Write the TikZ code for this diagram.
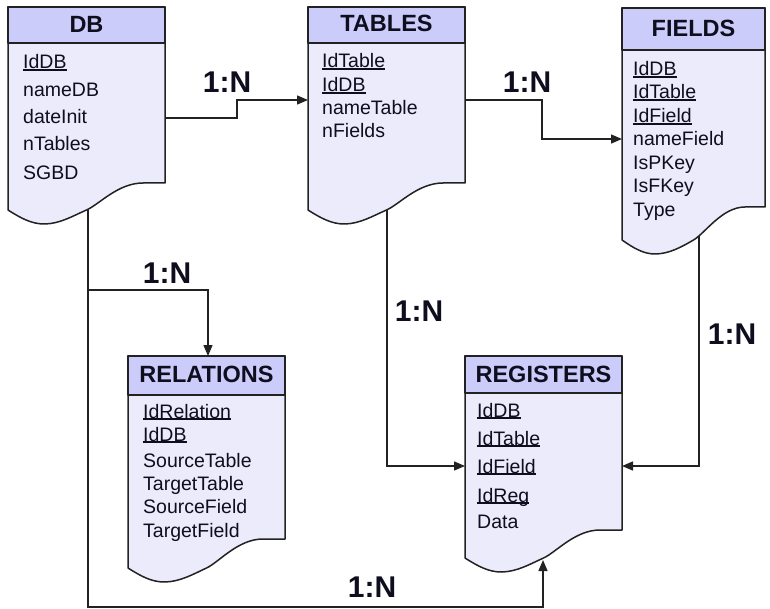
\documentclass[tikz,border=0pt]{standalone}
\usepackage{fontspec}
\setmainfont{Liberation Sans}
\usetikzlibrary{arrows.meta}
\definecolor{hdrfill}{HTML}{CCCCFA}
\definecolor{bodyfill}{HTML}{EBEBFC}
\definecolor{edgecol}{HTML}{222222}
\definecolor{txt}{HTML}{0E0E1E}
\newcommand\keyfield[1]{\setbox0\hbox{#1}\rlap{\rule[-1.8pt]{\wd0}{1.8pt}}\box0}
\newcommand\docbox[6]{% L,R,T,H,yR,yL
 \pgfmathsetmacro\dbw{#2-#1}%
 \pgfmathsetmacro\dbd{#6-#5}%
 \filldraw[boxline, fill=bodyfill] (#1,#3) -- (#2,#3) -- (#2,#5) -- ({#2-0.14*\dbw},#5)
   .. controls ({#2-0.3*\dbw},#5) and ({#1+0.58*\dbw},{#6-0.2*\dbd}) .. ({#1+0.5*\dbw},#6)
   .. controls ({#1+0.42*\dbw},{#6+0.2*\dbd}) and ({#1+0.33*\dbw},{#6+14}) .. ({#1+0.23*\dbw},{#6+14})
   .. controls ({#1+0.15*\dbw},{#6+14}) and ({#1+0.08*\dbw},{#6+8}) .. (#1,#6) -- cycle;
 \filldraw[boxline, fill=hdrfill] (#1,#3) rectangle (#2,#4);
}
\tikzset{
  boxline/.style={draw=edgecol, line width=1.5pt, line join=round},
  conn/.style={draw=edgecol, line width=1.4pt, -{Triangle[length=11pt,width=9pt]}},
  hdrtext/.style={anchor=base, inner sep=0pt, text=txt, font=\fontsize{23.5}{26}\selectfont\bfseries},
  row/.style={anchor=base west, inner sep=0pt, text=txt, font=\fontsize{19.5}{22}\selectfont},
  card/.style={anchor=center, inner sep=0pt, text=txt, font=\fontsize{30}{32}\selectfont\bfseries}
}
\begin{document}
\begin{tikzpicture}[x=1pt,y=-1pt]
\useasboundingbox (0,0) rectangle (770,609);
% connection points
\coordinate (dbE) at (165,118);
\coordinate (k1) at (237,118);
\coordinate (tabW) at (308,100);
\coordinate (tabE) at (465,100);
\coordinate (k2) at (542,100);
\coordinate (fldW) at (622,139);
\coordinate (tabS) at (387,150);
\coordinate (regW) at (465,466);
\coordinate (fldS) at (699,200);
\coordinate (regE) at (622,466);
\coordinate (dbS) at (88,150);
\coordinate (kb) at (543,607);
\coordinate (regS) at (543,560);
\coordinate (br) at (88,290);
\coordinate (relN) at (208,356);
% connectors
\draw[conn] (dbE) -- (k1) |- (tabW);
\draw[conn] (tabE) -- (k2) |- (fldW);
\draw[conn] (tabS) |- (regW);
\draw[conn] (fldS) |- (regE);
\draw[conn] (dbS) |- (kb) -- (regS);
\draw[conn] (br) -| (relN);
% boxes
\docbox{8}{165}{7}{43}{183}{210}
\docbox{308}{465}{7}{43}{183}{210}
\docbox{622}{765}{8}{50}{207}{240}
\docbox{128}{285}{356}{395}{539}{568}
\docbox{465}{622}{356}{393}{530}{558}
% headers
\node[hdrtext] (dbT) at (86.5,33) {DB};
\node[hdrtext] (tabT) at (386.5,32) {TABLES};
\node[hdrtext] (fldT) at (693.5,37) {FIELDS};
\node[hdrtext] (relT) at (206.5,382) {RELATIONS};
\node[hdrtext] (regT) at (543.5,382) {REGISTERS};
% DB rows
\node[row] (db1) at (23,69) {\keyfield{IdDB}};
\node[row] (db2) at (23,97) {nameDB};
\node[row] (db3) at (23,124) {dateInit};
\node[row] (db4) at (23,151) {nTables};
\node[row] (db5) at (23,180) {SGBD};
% TABLES rows
\node[row] (tb1) at (322,68) {\keyfield{IdTable}};
\node[row] (tb2) at (322,92) {\keyfield{IdDB}};
\node[row] (tb3) at (322,115) {nameTable};
\node[row] (tb4) at (322,138) {nFields};
% FIELDS rows
\node[row] (fd1) at (633,76) {\keyfield{IdDB}};
\node[row] (fd2) at (633,99) {\keyfield{IdTable}};
\node[row] (fd3) at (633,123) {\keyfield{IdField}};
\node[row] (fd4) at (633,146) {nameField};
\node[row] (fd5) at (633,170) {IsPKey};
\node[row] (fd6) at (633,193) {IsFKey};
\node[row] (fd7) at (633,217) {Type};
% RELATIONS rows
\node[row] (rl1) at (143,418) {\keyfield{IdRelation}};
\node[row] (rl2) at (143,441) {\keyfield{IdDB}};
\node[row] (rl3) at (143,467) {SourceTable};
\node[row] (rl4) at (143,490) {TargetTable};
\node[row] (rl5) at (143,513) {SourceField};
\node[row] (rl6) at (143,537) {TargetField};
% REGISTERS rows
\node[row] (rg1) at (477,417) {\keyfield{IdDB}};
\node[row] (rg2) at (477,445) {\keyfield{IdTable}};
\node[row] (rg3) at (477,473) {\keyfield{IdField}};
\node[row] (rg4) at (477,502) {\keyfield{IdReg}};
\node[row] (rg5) at (477,528) {Data};
% cardinalities
\node[card] (c1) at (227,82) {1:N};
\node[card] (c2) at (527,82) {1:N};
\node[card] (c3) at (372,587) {1:N};
\node[card] (c4) at (419,311) {1:N};
\node[card] (c5) at (732,334) {1:N};
\node[card] (c6) at (167,273) {1:N};
\end{tikzpicture}
\end{document}
